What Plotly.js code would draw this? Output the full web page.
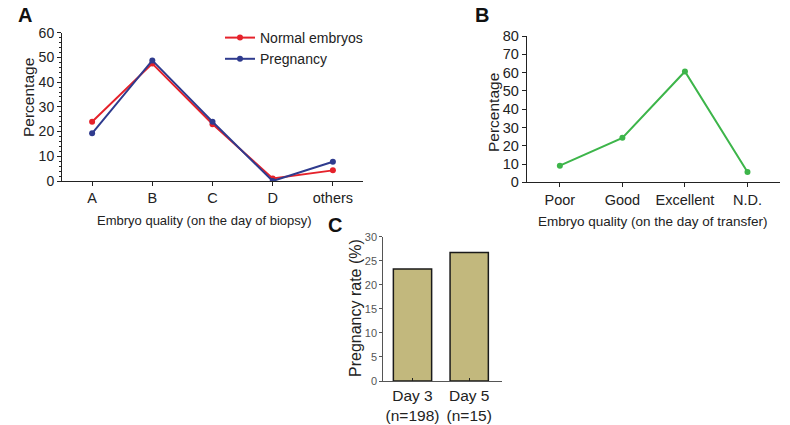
<!DOCTYPE html>
<html>
<head>
<meta charset="utf-8">
<script src="https://cdn.plot.ly/plotly-3.0.1.min.js"></script>
<style>html,body{margin:0;padding:0;background:#fff;}#chart{width:790px;height:425px;}</style>
</head>
<body>
<div id="chart"></div>
<script>
// Panel A
const catsA = ["A", "B", "C", "D", "others"];
const normalEmbryos = [24, 47.5, 23, 1, 4.3];
const pregnancyA = [19.3, 48.8, 24, 0, 7.8];
// Panel B
const catsB = ["Poor", "Good", "Excellent", "N.D."];
const pctB = [9.1, 24.3, 60.6, 5.6];
// Panel C
const catsC = ["Day 3<br>(n=198)", "Day 5<br>(n=15)"];
const rateC = [23.3, 26.7];

const FONT = "Liberation Sans, Arial, sans-serif";
const px = v => v / 790;
const py = v => 1 - v / 425;

const traces = [
  {x: catsA, y: normalEmbryos, name: "Normal embryos", type: "scatter", mode: "lines+markers",
   line: {color: "#e5222b", width: 2}, marker: {color: "#e5222b", size: 6}, xaxis: "x", yaxis: "y"},
  {x: catsA, y: pregnancyA, name: "Pregnancy", type: "scatter", mode: "lines+markers",
   line: {color: "#2f3b8e", width: 2}, marker: {color: "#2f3b8e", size: 6}, xaxis: "x", yaxis: "y"},
  {x: catsB, y: pctB, type: "scatter", mode: "lines+markers", showlegend: false,
   line: {color: "#3db54a", width: 2}, marker: {color: "#3db54a", size: 6}, xaxis: "x2", yaxis: "y2"},
  {x: catsC, y: rateC, type: "bar", showlegend: false, width: 0.675,
   marker: {color: "#c2b87d", line: {color: "#1a1a1a", width: 1.5}}, xaxis: "x3", yaxis: "y3"}
];

const axBase = {showgrid: false, zeroline: false, showline: true, linecolor: "#222", linewidth: 1,
  ticks: "outside", ticklen: 4, tickcolor: "#222", fixedrange: true};

function ann(text, x, y, size, angle, bold) {
  return {text: text, x: px(x), y: py(y), xref: "paper", yref: "paper", xanchor: "center", yanchor: "middle",
    showarrow: false, textangle: angle || 0, font: {size: size, color: bold ? "#111" : "#222"}};
}

const layout = {
  width: 790, height: 425,
  margin: {l: 0, r: 0, t: 0, b: 0},
  paper_bgcolor: "#fff", plot_bgcolor: "rgba(0,0,0,0)",
  font: {family: FONT, color: "#222"},
  showlegend: true,
  legend: {x: px(220), y: py(22), xanchor: "left", yanchor: "top", font: {size: 14, color: "#222"},
    bgcolor: "rgba(0,0,0,0)", tracegroupgap: 0, itemwidth: 30},
  xaxis: Object.assign({}, axBase, {domain: [px(62), px(363)], range: [-0.5, 4.5], anchor: "y",
    tickfont: {size: 14.5}, type: "category"}),
  yaxis: Object.assign({}, axBase, {domain: [py(181), py(32.7)], range: [0, 60], dtick: 10, anchor: "x",
    tickfont: {size: 14}, minor: {dtick: 2, ticks: "outside", ticklen: 2, tickcolor: "#222"}}),
  xaxis2: Object.assign({}, axBase, {domain: [px(526.7), px(780)], range: [-0.53, 3.52], anchor: "y2",
    tickfont: {size: 14.5}, type: "category"}),
  yaxis2: Object.assign({}, axBase, {domain: [py(182.3), py(36)], range: [0, 80], dtick: 10, anchor: "x2",
    tickfont: {size: 14.5}}),
  xaxis3: Object.assign({}, axBase, {domain: [px(383.3), px(501.7)], range: [-0.515, 1.573], anchor: "y3",
    tickfont: {size: 15.5}, type: "category", ticks: "inside", ticklen: 3, linecolor: "#555"}),
  yaxis3: Object.assign({}, axBase, {domain: [py(381), py(236.7)], range: [0, 30], dtick: 5, anchor: "x3",
    tickfont: {size: 11, color: "#555"}, linecolor: "#555", tickcolor: "#555", ticklen: 3}),
  annotations: [
    ann("<b>A</b>", 25, 15, 20, 0, true),
    ann("<b>B</b>", 482, 15, 20, 0, true),
    ann("<b>C</b>", 335, 225, 20, 0, true),
    ann("Percentage", 28, 98, 15.5, -90),
    ann("Embryo quality (on the day of biopsy)", 204, 220, 13),
    ann("Percentage", 493, 113, 15.5, -90),
    ann("Embryo quality (on the day of transfer)", 653, 221, 13.5),
    ann("Pregnancy rate (%)", 355, 308, 16, -90)
  ]
};

Plotly.newPlot("chart", traces, layout, {displayModeBar: false, staticPlot: true});
</script>
</body>
</html>
